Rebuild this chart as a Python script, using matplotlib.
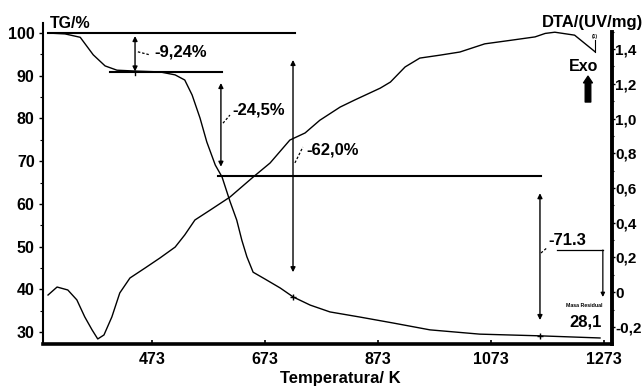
import matplotlib
matplotlib.use("Agg")
import matplotlib.pyplot as plt
from matplotlib.ticker import MultipleLocator, FuncFormatter

plt.rcParams['font.family'] = ['Liberation Sans', 'DejaVu Sans']
plt.rcParams['font.weight'] = 'bold'

# ---- data ----
tg_T = [289, 319, 346, 369, 390, 411, 443, 487, 514, 531, 544, 558, 570, 585, 597,
        611, 623, 632, 641, 652, 673, 700, 723, 753, 788, 841, 900, 965, 1053, 1160, 1266]
tg_v = [100, 99.8, 99.0, 94.9, 92.3, 91.3, 91.1, 90.9, 90.2, 89.0, 85.5, 80.1, 74.5, 69.1, 66.3,
        60.6, 56.2, 51.5, 47.6, 44.0, 42.4, 40.3, 38.2, 36.3, 34.7, 33.5, 32.1, 30.5, 29.5, 29.1, 28.6]

dta_T = [289, 305, 324, 340, 354, 367, 377, 388, 402, 416, 434, 461, 487, 514, 531, 549,
         576, 611, 652, 682, 717, 744, 770, 806, 832, 877, 895, 921, 947, 983, 1018,
         1062, 1107, 1151, 1169, 1186, 1221, 1257]
dta_v = [-0.016, 0.030, 0.013, -0.044, -0.142, -0.217, -0.269, -0.246, -0.142, -0.004, 0.082,
         0.14, 0.197, 0.26, 0.33, 0.416, 0.473, 0.548, 0.663, 0.744, 0.876, 0.917, 0.99,
         1.066, 1.107, 1.175, 1.21, 1.297, 1.348, 1.365, 1.383, 1.43, 1.45, 1.47, 1.49,
         1.497, 1.48, 1.385]

x_ticks = [473, 673, 873, 1073, 1273]
tg_ticks = [30, 40, 50, 60, 70, 80, 90, 100]
dta_ticks = [-0.2, 0, 0.2, 0.4, 0.6, 0.8, 1.0, 1.2, 1.4]

step_labels = ["-9,24%", "-24,5%", "-62,0%", "-71.3"]
residual_label = "28,1"

# ---- figure ----
W, H = 644, 390
fig = plt.figure(figsize=(W / 100, H / 100), dpi=100)
ax = fig.add_axes([43 / W, 1 - 344 / H, (612 - 43) / W, (344 - 23) / H])
ax2 = ax.twinx()

ax.set_xlim(280.1, 1287.2)
ax.set_ylim(27.19, 102.35)
ax2.set_ylim(-0.298, 1.55)

ax.plot(tg_T, tg_v, color='black', lw=1.0)
ax2.plot(dta_T, dta_v, color='black', lw=1.0)
# small end mark on the DTA curve
ax2.plot([1257, 1257], [1.385, 1.455], color='black', lw=0.8)
ax2.text(1257, 1.475, "(1)", fontsize=3.5, ha='center', va='center')

# spines
ax.spines['top'].set_visible(False)
ax2.spines['top'].set_visible(False)
ax.spines['right'].set_visible(False)
ax2.spines['left'].set_visible(False)
ax2.spines['bottom'].set_visible(False)
ax.spines['left'].set_linewidth(1.5)
ax.spines['bottom'].set_linewidth(2.6)
ax2.spines['right'].set_linewidth(2.8)
ax2.spines['right'].set_bounds(-0.298, 1.50)

# ticks
ax.set_xticks(x_ticks)
ax.set_yticks(tg_ticks)
ax.yaxis.set_minor_locator(MultipleLocator(5))
ax.tick_params(axis='x', direction='in', length=3, width=1.2, labelsize=11.5, pad=6)
ax.tick_params(axis='y', which='major', direction='out', length=3, width=1, labelsize=11.5, pad=3)
ax.tick_params(axis='y', which='minor', direction='out', length=2, width=0.8)
ax2.set_yticks(dta_ticks)
ax2.yaxis.set_minor_locator(MultipleLocator(0.1))
ax2.yaxis.set_major_formatter(FuncFormatter(
    lambda v, p: "0" if abs(v) < 1e-9 else f"{v:.1f}".replace('.', ',')))
ax2.tick_params(axis='y', which='major', direction='out', length=2, width=1, labelsize=11, pad=0.5)
ax2.tick_params(axis='y', which='minor', direction='out', length=1.5, width=0.8)
for lab in ax.get_xticklabels() + ax.get_yticklabels() + ax2.get_yticklabels():
    lab.set_fontweight('bold')

# ---- annotation lines (TG axis) ----
lk = dict(color='black', lw=1.5)
ax.plot([289, 726], [100, 100], **lk)
ax.plot([399, 597], [90.9, 90.9], **lk)
ax.plot([590, 1161.5], [66.5, 66.5], **lk)

arr = dict(arrowstyle='<|-|>', color='black', lw=1.0, mutation_scale=7, shrinkA=0, shrinkB=0)
ax.annotate('', xy=(443, 99.3), xytext=(443, 91.0), arrowprops=arr)
ax.plot([443, 443], [91.0, 90.2], color='black', lw=1.0)
ax.annotate('', xy=(595, 88.3), xytext=(595, 68.7), arrowprops=arr)
ax.annotate('', xy=(722.6, 93.7), xytext=(722.6, 44.0), arrowprops=arr)
ax.annotate('', xy=(1159.7, 62.5), xytext=(1159.7, 32.8), arrowprops=arr)

# + marks on TG curve
ax.plot([722.6], [38.2], marker='+', color='black', ms=5, mew=1)
ax.plot([1159.7], [29.1], marker='+', color='black', ms=5, mew=1)

# leader lines
dk = dict(color='black', lw=0.9, ls=(0, (2, 1.5)))
ax.plot([448, 469], [95.6, 94.9], **dk)
ax.plot([598.7, 611], [78.9, 80.8], **dk)
ax.plot([726, 740], [69.6, 73.3], **dk)
ax.plot([1161.5, 1172], [48.5, 49.7], **dk)

# residual mass arrow
ax.plot([1190, 1271], [49.2, 49.2], color='black', lw=0.9)
ax.annotate('', xy=(1271, 38.2), xytext=(1271, 49.2),
            arrowprops=dict(arrowstyle='-|>', color='black', lw=0.9, mutation_scale=6,
                            shrinkA=0, shrinkB=0))

# texts
tk = dict(fontsize=12, fontweight='bold', va='center', ha='left')
ax.text(478, 95.6, step_labels[0], **tk)
ax.text(614.6, 82.0, step_labels[1], **tk)
ax.text(747, 72.6, step_labels[2], **tk)
ax.text(1174, 51.5, step_labels[3], **tk)
ax.text(1237.6, 36.1, "Masa Residual", fontsize=3.8, fontweight='bold', ha='center', va='center')
ax.text(1269.5, 32.3, residual_label, fontsize=12, fontweight='bold', ha='right', va='center')
ax.text(1237.6, 92.05, "Exo", fontsize=11.5, fontweight='bold', ha='center', va='center')
ax.annotate('', xy=(1244.7, 89.9), xytext=(1244.7, 83.85),
            arrowprops=dict(arrowstyle='simple,head_width=0.8,head_length=0.6,tail_width=0.5',
                            color='black', shrinkA=0, shrinkB=0, mutation_scale=8))

fig.text(50 / W, 1 - 23 / H, "TG/%", fontsize=11.5, fontweight='bold', ha='left', va='center')
fig.text(643 / W, 1 - 22 / H, "DTA/(UV/mg)", fontsize=12, fontweight='bold', ha='right', va='center')
fig.text(340 / W, 1 - 379 / H, "Temperatura/ K", fontsize=12, fontweight='bold', ha='center', va='center')

fig.savefig("out.png", dpi=100)
